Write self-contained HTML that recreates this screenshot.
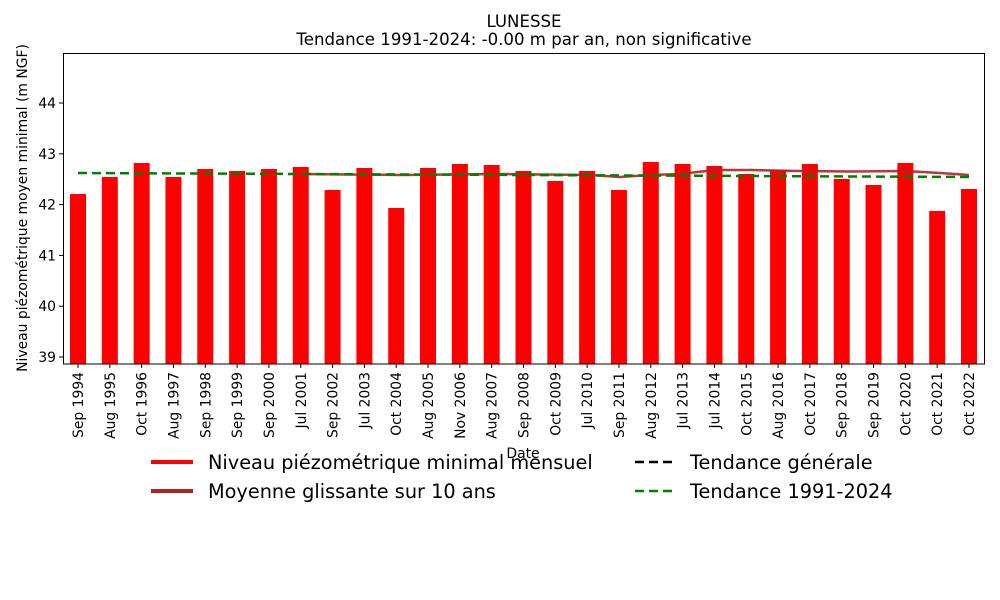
<!DOCTYPE html>
<html><head><meta charset="utf-8"><style>body{margin:0;background:#fff}svg{display:block}text{font-family:"DejaVu Sans","Liberation Sans",sans-serif;fill:#000}</style></head><body>
<svg width="1000" height="600" xmlns="http://www.w3.org/2000/svg">
<text x="524" y="27" font-size="16.6" text-anchor="middle">LUNESSE</text>
<text x="524" y="45" font-size="16.6" text-anchor="middle">Tendance 1991-2024: -0.00 m par an, non significative</text>
<g fill="#ff0000" id="bars"></g>
<polyline fill="none" stroke="#b22222" stroke-width="2.5" opacity="0.9" points="301,174 400,175 500,174 590,175 620,177 650,175 680,174 715,170 750,170 800,171 850,171.5 905,171 940,173 969,175"/>
<line x1="78" y1="173" x2="969" y2="177" stroke="#008000" stroke-width="2.5" stroke-dasharray="9,5"/>
<rect x="63.5" y="53.5" width="921" height="310.5" fill="none" stroke="#000" stroke-width="1"/>
<g id="yt" font-size="13.9"></g>
<g id="xt" font-size="13.9"></g>
<text x="523" y="458" font-size="13.9" text-anchor="middle">Date</text>
<text transform="translate(27,208) rotate(-90)" font-size="13.9" text-anchor="middle">Niveau piézométrique moyen minimal (m NGF)</text>
<line x1="151" y1="462" x2="193" y2="462" stroke="#ff0000" stroke-width="4"/>
<text x="208" y="469" font-size="19.3">Niveau piézométrique minimal mensuel</text>
<line x1="151" y1="491" x2="193" y2="491" stroke="#b22222" stroke-width="4"/>
<text x="208" y="498" font-size="19.3">Moyenne glissante sur 10 ans</text>
<line x1="635" y1="462" x2="677" y2="462" stroke="#000" stroke-width="2.5" stroke-dasharray="9,5"/>
<text x="690" y="469" font-size="19.3">Tendance générale</text>
<line x1="635" y1="491" x2="677" y2="491" stroke="#008000" stroke-width="2.5" stroke-dasharray="9,5"/>
<text x="690" y="498" font-size="19.3">Tendance 1991-2024</text>
<script>
var tops=[194,177,163,177,169,171,169,167,190,168,208,168,164,165,171,181,171,190,162,164,166,174,170,164,179,185,163,211,189];
var labs=["Sep 1994","Aug 1995","Oct 1996","Aug 1997","Sep 1998","Sep 1999","Sep 2000","Jul 2001","Sep 2002","Jul 2003","Oct 2004","Aug 2005","Nov 2006","Aug 2007","Sep 2008","Oct 2009","Jul 2010","Sep 2011","Aug 2012","Jul 2013","Jul 2014","Oct 2015","Aug 2016","Oct 2017","Sep 2018","Sep 2019","Oct 2020","Oct 2021","Oct 2022"];
var ns="http://www.w3.org/2000/svg",b=document.getElementById("bars"),xt=document.getElementById("xt"),yt=document.getElementById("yt");
for(var i=0;i<29;i++){var x=78+i*891/28;
var r=document.createElementNS(ns,"rect");r.setAttribute("x",x-8);r.setAttribute("y",tops[i]);r.setAttribute("width",16);r.setAttribute("height",364-tops[i]);b.appendChild(r);
var l=document.createElementNS(ns,"line");l.setAttribute("x1",x);l.setAttribute("x2",x);l.setAttribute("y1",364);l.setAttribute("y2",368);l.setAttribute("stroke","#000");xt.appendChild(l);
var t=document.createElementNS(ns,"text");t.setAttribute("transform","translate("+(x+5)+",372) rotate(-90)");t.setAttribute("text-anchor","end");t.textContent=labs[i];xt.appendChild(t);}
for(var v=39;v<=44;v++){var y=357-(v-39)*50.8;
var l=document.createElementNS(ns,"line");l.setAttribute("x1",59);l.setAttribute("x2",63);l.setAttribute("y1",y);l.setAttribute("y2",y);l.setAttribute("stroke","#000");yt.appendChild(l);
var t=document.createElementNS(ns,"text");t.setAttribute("x",56);t.setAttribute("y",y+5);t.setAttribute("text-anchor","end");t.textContent=v;yt.appendChild(t);}
</script>
</svg>
</body></html>
